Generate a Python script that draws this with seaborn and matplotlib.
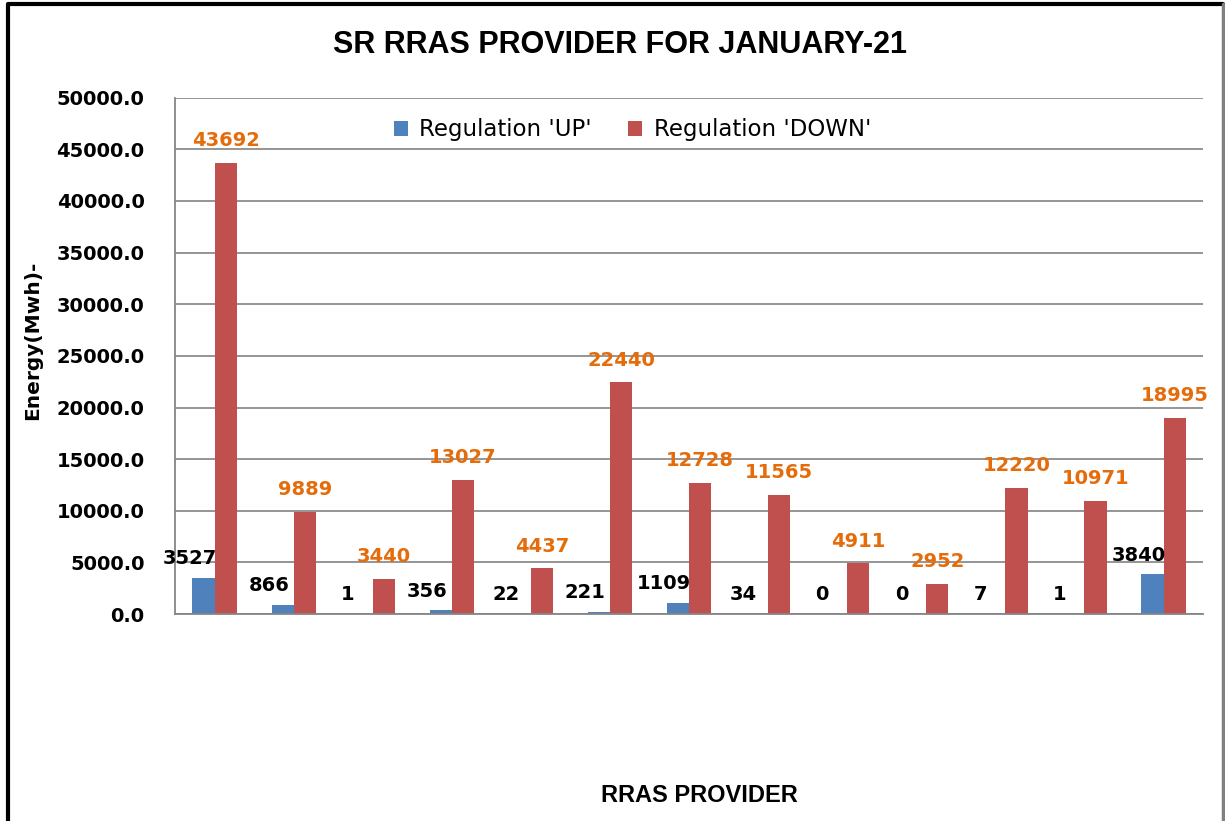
import pandas as pd
import matplotlib
matplotlib.use("Agg")
import matplotlib.pyplot as plt
import seaborn as sns
from matplotlib.lines import Line2D

# dados
providers = ["P%d" % i for i in range(1, 14)]
reg_up = [3527, 866, 1, 356, 22, 221, 1109, 34, 0, 0, 7, 1, 3840]
reg_down = [43692, 9889, 3440, 13027, 4437, 22440, 12728, 11565, 4911, 2952, 12220, 10971, 18995]
series = ["Regulation 'UP'", "Regulation 'DOWN'"]
yticks = [0, 5000, 10000, 15000, 20000, 25000, 30000, 35000, 40000, 45000, 50000]

df = pd.DataFrame({
    "provider": providers * 2,
    "tipo": [series[0]] * len(providers) + [series[1]] * len(providers),
    "energia": reg_up + reg_down,
})

sns.set_style("white")
plt.rcParams["font.family"] = ["DejaVu Sans"]
plt.rcParams["text.color"] = "black"
plt.rcParams["axes.labelcolor"] = "black"
plt.rcParams["ytick.color"] = "black"

fig = plt.figure(figsize=(12.25, 8.21), dpi=100)
ax = fig.add_axes([0.1429, 0.252, 0.8392, 0.629])

sns.barplot(
    data=df, x="provider", y="energia", hue="tipo",
    palette=["#4F81BD", "#C0504D"], width=0.56, saturation=1,
    edgecolor="none", ax=ax
)

ax.set_ylim(0, 50000)
ax.set_yticks(yticks)
ax.set_yticklabels([f"{v:.1f}" for v in yticks], fontsize=14, fontweight="bold")
ax.tick_params(axis="y", length=4, color="#868686", pad=18)
ax.set_xticks([])
ax.set_xlim(-0.5, len(providers) - 0.5)
ax.yaxis.grid(True, color="#8C8C8C", linewidth=1.3)
ax.set_axisbelow(True)
for s in ["top", "right"]:
    ax.spines[s].set_visible(False)
for s in ["left", "bottom"]:
    ax.spines[s].set_color("#868686")
    ax.spines[s].set_linewidth(1.3)

ax.set_xlabel("")
ax.set_ylabel("Energy(Mwh)-", fontsize=14.5, fontweight="bold")
ax.yaxis.set_label_coords(-0.129, 0.53)

# rotulos de dados
for bar, v in zip(ax.containers[0], reg_up):
    ax.annotate(str(v), (bar.get_x() + bar.get_width() / 2, bar.get_height()),
                xytext=(-10, 7), textcoords="offset points", ha="center", va="bottom",
                fontsize=14, fontweight="bold", color="black")
for bar, v in zip(ax.containers[1], reg_down):
    ax.annotate(str(v), (bar.get_x() + bar.get_width() / 2, bar.get_height()),
                xytext=(0, 9), textcoords="offset points", ha="center", va="bottom",
                fontsize=14, fontweight="bold", color="#E46C0A")

leg = ax.legend(loc="upper center", bbox_to_anchor=(0.445, 1.0), ncol=2, frameon=False,
                fontsize=16.5, handlelength=0.6, handleheight=0.6, columnspacing=1.6,
                handletextpad=0.5)

fig.text(0.506, 0.945, "SR RRAS PROVIDER FOR JANUARY-21", ha="center", va="center",
         fontsize=22, fontweight="bold", family=["Liberation Sans Narrow", "Liberation Sans", "DejaVu Sans"])
fig.text(0.571, 0.031, "RRAS PROVIDER", ha="center", va="center",
         fontsize=17, fontweight="bold", family=["Liberation Sans", "DejaVu Sans"])

# borda da figura
fig.lines.append(Line2D([0.0065, 0.0065, 0.998], [0.0, 0.995, 0.995], transform=fig.transFigure,
                        color="black", linewidth=3))
fig.lines.append(Line2D([0.9985, 0.9985], [0.995, 0.0], transform=fig.transFigure,
                        color="#808080", linewidth=2.5))

fig.savefig("out.png", dpi=100)
